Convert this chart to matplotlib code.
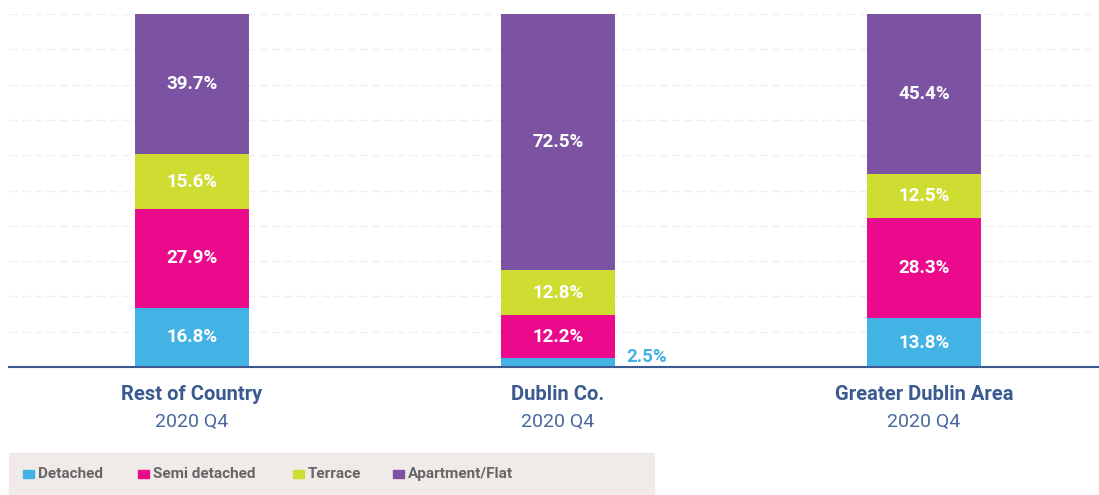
import matplotlib
matplotlib.use("Agg")
import matplotlib.pyplot as plt
from matplotlib.patches import Rectangle

plt.rcParams['font.family'] = ['Roboto', 'DejaVu Sans']

regions = ["Rest of Country", "Dublin Co.", "Greater Dublin Area"]
periods = ["2020 Q4", "2020 Q4", "2020 Q4"]
series_names = ["Detached", "Semi detached", "Terrace", "Apartment/Flat"]
detached = [16.8, 2.5, 13.8]
semi_detached = [27.9, 12.2, 28.3]
terrace = [15.6, 12.8, 12.5]
apartment = [39.7, 72.5, 45.4]
colors = ["#43B2E5", "#EC0A8C", "#CFDC32", "#7C53A2"]

W, H = 1099, 495
fig = plt.figure(figsize=(W / 100, H / 100), dpi=100)
ax = fig.add_axes([9 / W, 1 - 367 / H, 1 - 9 / W, (367 - 14) / H])

x = list(range(len(regions)))
width = 0.311
series = [detached, semi_detached, terrace, apartment]
bottom = [0.0] * len(regions)
for vals, col in zip(series, colors):
    ax.bar(x, vals, width, bottom=bottom, color=col, zorder=3, linewidth=0)
    for i, v in enumerate(vals):
        if v >= 5:
            ax.text(x[i], bottom[i] + v / 2, f"{v:.1f}%", ha="center", va="center",
                    color="white", fontsize=13.5, fontweight="bold", zorder=4)
        else:
            ax.text(x[i] + width / 2 + 0.03, bottom[i] + v / 2 + 1.5, f"{v:.1f}%",
                    ha="left", va="center", color=col, fontsize=13.5,
                    fontweight="bold", zorder=4)
    bottom = [b + v for b, v in zip(bottom, vals)]

ax.set_xlim(-0.5, (W - 192) / 366)
ax.set_ylim(0, 100)
for yv in range(10, 101, 10):
    ax.axhline(yv, color="#F0F0F0", lw=1, ls=(0, (6, 3)), zorder=1)
for s in ["top", "right", "left"]:
    ax.spines[s].set_visible(False)
ax.spines["bottom"].set_color("#3B5A8F")
ax.spines["bottom"].set_linewidth(1.5)
ax.spines["bottom"].set_zorder(5)
ax.set_yticks([])
ax.set_xticks([])

for i, (r, p) in enumerate(zip(regions, periods)):
    xf = (9 + (x[i] + 0.5) * 366) / W
    fig.text(xf, 1 - 394 / H, r, ha="center", va="center", color="#3B5A8F",
             fontsize=14.5, fontweight="bold")
    fig.text(xf, 1 - 422 / H, p, ha="center", va="center", color="#4A68A0",
             fontsize=14)

# legend
fig.patches.append(Rectangle((9 / W, 0), (654 - 9) / W, (495 - 453) / H,
                             transform=fig.transFigure, color="#F0EBE8", zorder=0))
leg_x = [23, 138, 293, 393]
for lx, name, col in zip(leg_x, series_names, colors):
    fig.patches.append(Rectangle((lx / W, 1 - 478 / H), 11 / W, 8 / H,
                                 transform=fig.transFigure, color=col, zorder=1))
    fig.text((lx + 15) / W, 1 - 474 / H, name, ha="left", va="center",
             color="#666666", fontsize=11, fontweight="bold")

fig.savefig("out.png", dpi=100)
